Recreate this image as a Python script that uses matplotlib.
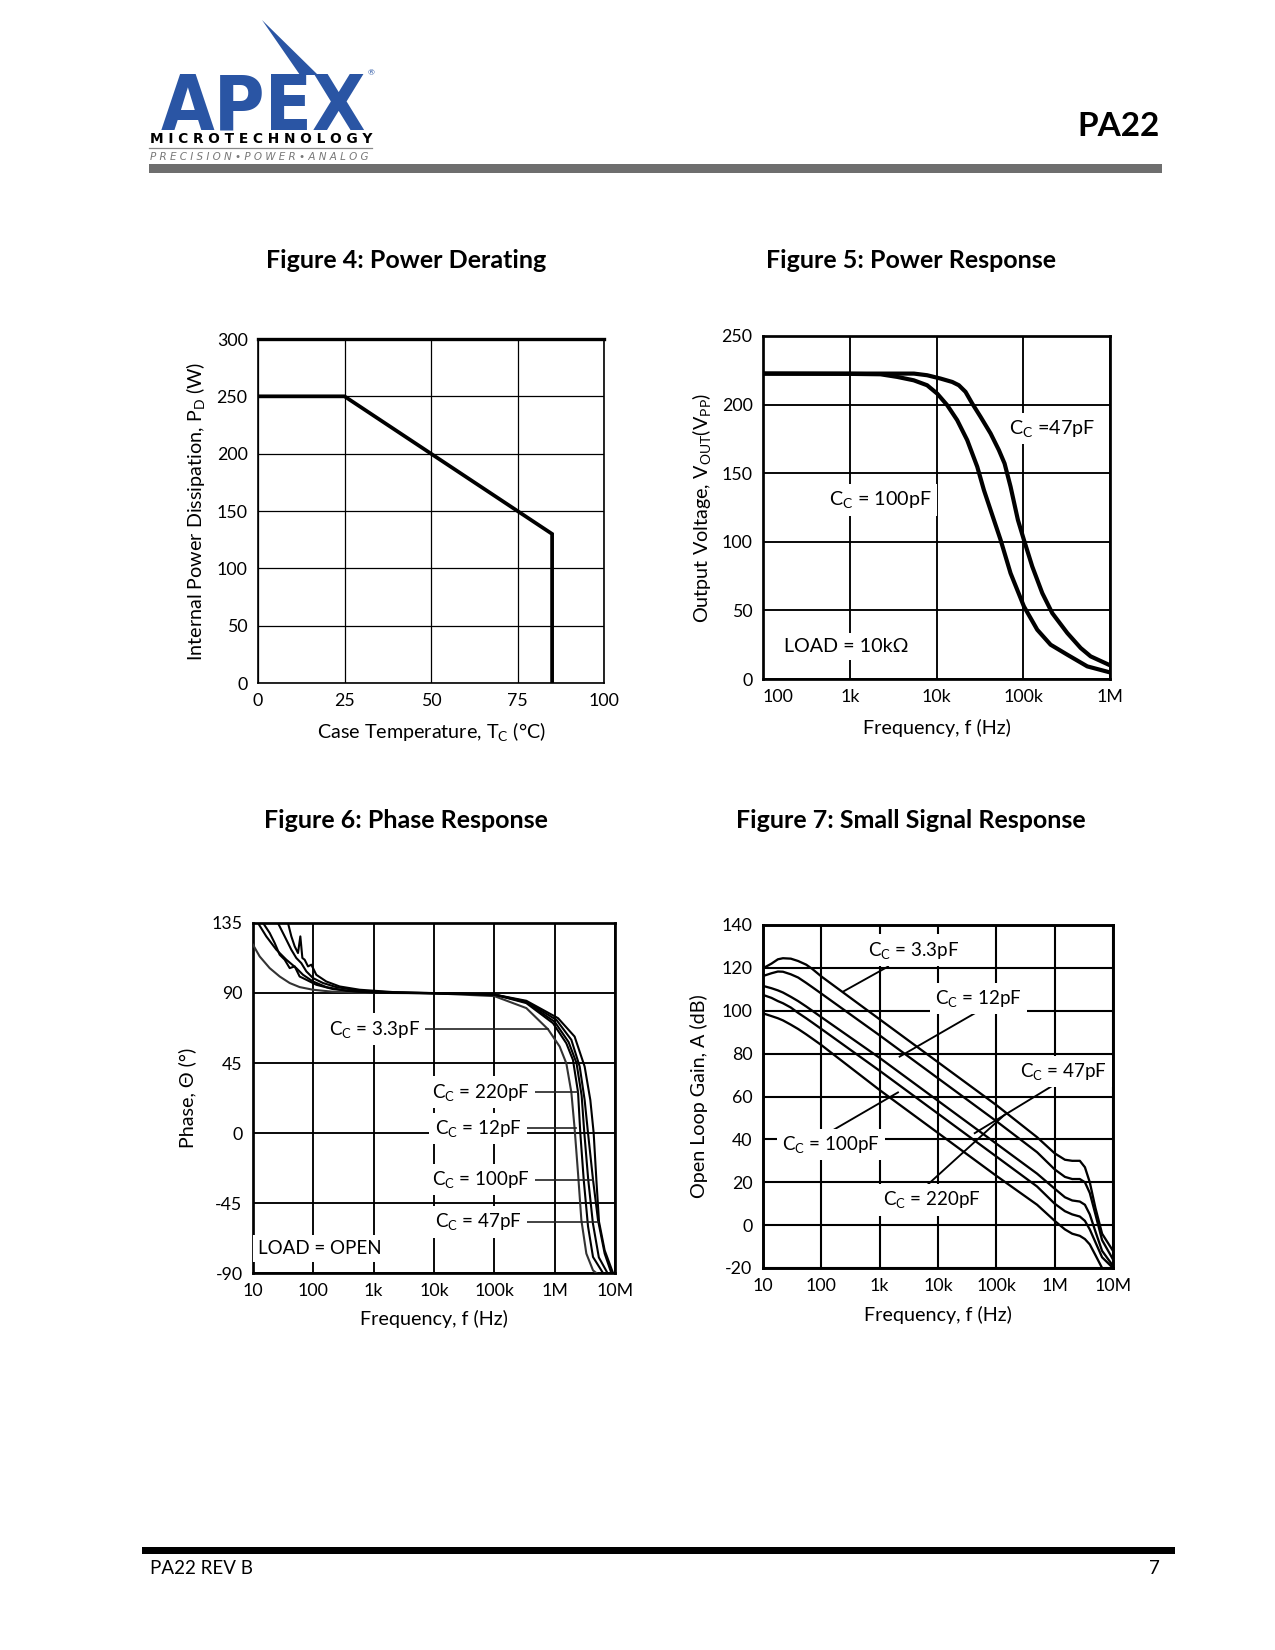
import numpy as np
import matplotlib
matplotlib.use('Agg')
import matplotlib.pyplot as plt
from matplotlib.lines import Line2D
from matplotlib.patches import Rectangle, Polygon

plt.rcParams['font.family'] = ['Lato', 'DejaVu Sans']
plt.rcParams['mathtext.default'] = 'regular'
plt.rcParams['axes.unicode_minus'] = False

W, H = 1275, 1650

# ---- Figure 4: power derating
temp4 = [0, 25, 75, 85, 85]
pd4 = [250, 250, 150, 130, 0]

# ---- Figure 5: power response
f5_47 = [100, 1000, 5500, 7800, 11100, 15200, 18100, 21600, 25800, 32200, 42000,
         52400, 60900, 71400, 86800, 101800, 127000, 165700, 216000, 322000,
         459000, 598000, 1000000]
v5_47 = [222.6, 222.6, 222.6, 221.4, 219.0, 216.5, 214.1, 209.3, 200.8, 191.1, 179.0,
         166.8, 157.1, 140.2, 115.9, 101.4, 82.0, 62.6, 48.0, 33.5,
         22.6, 16.5, 10.0]
f5_100 = [100, 1000, 2260, 3515, 5470, 7800, 10190, 13280, 17300, 22600, 29500,
          35200, 45900, 54800, 71400, 101800, 145000, 206700, 322000, 547000, 1000000]
v5_100 = [222.6, 222.4, 222.1, 220.2, 217.7, 214.1, 208.0, 199.6, 188.7, 174.1, 154.7,
          137.7, 115.9, 101.4, 77.1, 52.9, 35.9, 25.0, 17.7, 9.2, 4.8]

# ---- Figure 6: phase response
f6 = [
    [10, 12.9, 18.9, 27.7, 40.6, 59.3, 98.6, 212, 586, 2090, 10000, 100000, 339000,
     776000, 1210000, 1560000, 1890000, 2140000, 2440000, 2770000, 3350000, 4320000, 4900000],
    [12.1, 16.6, 24.4, 35.7, 52.2, 67.5, 98.6, 164, 352, 1107, 7460, 100000, 339000,
     938000, 1560000, 2010000, 2440000, 2660000, 3030000, 3570000, 4320000, 6320000],
    [14.7, 18.9, 22.9, 27.7, 33.5, 40.6, 49.1, 59.3, 76.6, 112, 212, 586, 2090, 100000,
     339000, 1070000, 1890000, 2600000, 3140000, 3570000, 4320000, 5230000, 6740000, 8690000],
    [25.9, 33.5, 43.2, 52.2, 63.2, 76.6, 98.6, 145, 240, 586, 2090, 100000, 339000,
     1140000, 2140000, 3140000, 3900000, 4430000, 4910000, 5430000, 6740000, 9270000],
    [38.0, 43.2, 49.1, 55.7, 60.9, 65.8, 71.8, 81.6, 92.7, 112, 164, 273, 586, 2090,
     100000, 339000, 1000000, 1700000, 2300000, 2800000, 3100000, 3600000, 4300000,
     5400000, 7500000],
]
ph6 = [
    [121, 113.5, 106, 100.6, 96.4, 93.8, 92.1, 90.8, 90.2, 90, 89.8, 88, 80.3,
     66.7, 55.6, 44.8, 26.2, 3, -26, -56, -77.5, -88.3, -90],
    [135, 126.4, 117.8, 111.4, 106, 101.7, 97.4, 93.8, 91.4, 90.2, 90, 89, 83.5,
     70.6, 57.7, 47, 26.2, 0, -30, -60, -79.7, -90],
    [135, 128.6, 122.1, 114.6, 111.4, 106, 107.1, 100.6, 98.5, 95.3, 92.5, 90.8, 90.2, 89,
     84.5, 72.7, 59.9, 42.7, 21.2, 0, -30, -56, -77.5, -90],
    [135, 126.4, 117.8, 112.5, 109.2, 103.9, 99.6, 96.4, 93.8, 91.4, 90.4, 89, 85,
     73.8, 62, 42.7, 21.2, 0, -30, -57, -75.4, -90],
    [135, 126.4, 120, 115.7, 126.4, 112.5, 111.4, 107.1, 108.2, 101.7, 97.4, 94.2, 92.1, 90.6,
     89, 84, 71.5, 58.5, 45, 24, 0, -30, -58, -80, -90],
]
lab6 = ['3.3pF', '220pF', '12pF', '100pF', '47pF']
lab6_f = [5.8e3, 3.85e5, 2.81e5, 3.85e5, 2.81e5]
lab6_y = [66.7, 26.2, 3.0, -29.9, -57.1]
lead6_f = [7.76e5, 2.44e6, 2.29e6, 4.3e6, 5.2e6]

# ---- Figure 7: small signal (open loop gain)
f7 = [10, 14, 18, 22, 30, 40, 55, 70, 100, 1000, 10000, 100000, 500000, 1000000,
      1500000, 2000000, 2700000, 3300000, 4000000, 5000000, 6500000, 10000000]
a7 = [
    [119.8, 122, 124, 124.5, 124.3, 123.2, 121.5, 119.5, 116, 96, 76, 56, 41, 33.5,
     30.5, 30, 30, 27, 20, 8, -4, -12],
    [116.2, 117.5, 118.3, 118.2, 117, 115.5, 113, 111, 108, 88.5, 68.5, 48.5, 34, 26,
     22.5, 21.5, 21.5, 20, 15, 5, -7, -16],
    [111.6, 110.5, 109.5, 108.5, 106.5, 104.5, 102, 100, 97, 78, 58, 38, 24, 17,
     13, 11.5, 11, 9.5, 5, -3, -12, -19],
    [107.4, 106, 104.5, 103.5, 101.5, 99, 96.5, 94.5, 91.5, 72, 52, 32, 18, 10,
     6.5, 5, 4, 2, -2, -8, -15, -20],
    [98.8, 97.5, 96.5, 95.5, 93.5, 91.5, 89, 87, 84, 63, 43, 23, 9.5, 2,
     -2, -4, -5, -6.5, -9, -14, -20, -24],
]
lab7 = ['3.3pF', '12pF', '47pF', '100pF', '220pF']
lab7_f = [3.8e3, 5.0e4, 1.39e6, 148, 7.9e3]
lab7_y = [128.3, 105.8, 71.7, 37.5, 11.8]
lead7_f = [[1.39e3, 235], [4.26e4, 2.2e3], [8.8e5, 4.26e4], [139, 2.06e3], [5.18e3, 1.39e5]]
lead7_y = [[120.6, 108.9], [98.8, 78.6], [64.7, 42.9], [43.4, 61.9], [16.2, 51.5]]

CC = r'C$_{C}$'


def px_axes(fig, x0, y0, x1, y1):
    '''Axes from pixel box (top-left origin).'''
    return fig.add_axes([x0 / W, 1 - y1 / H, (x1 - x0) / W, (y1 - y0) / H])


def style(ax, grid_lw, frame_lw, top_lw=None):
    ax.grid(True, which='major', color='black', lw=grid_lw)
    ax.set_axisbelow(True)
    ax.tick_params(axis='both', which='both', length=0, labelsize=8.5, pad=5)
    ax.minorticks_off()
    for s in ['top', 'bottom', 'left', 'right']:
        ax.spines[s].set_linewidth(frame_lw)
    if top_lw:
        ax.spines['top'].set_linewidth(top_lw)


def freq_axis(ax, lo, hi, labels):
    ax.set_xscale('log')
    ax.set_xlim(lo, hi)
    ticks = [10.0 ** k for k in range(int(np.log10(lo)), int(np.log10(hi)) + 1)]
    ax.set_xticks(ticks)
    ax.set_xticklabels(labels)
    ax.minorticks_off()


def axis_labels(ax, xl, yl, xpos, ypos):
    ax.set_xlabel(xl, fontsize=9.5, va='center')
    ax.xaxis.set_label_coords(0.5, xpos)
    ax.set_ylabel(yl, fontsize=9.5, va='center')
    ax.yaxis.set_label_coords(ypos, 0.5)


def label_text(ax, x, y, s, ha='left', size=9):
    ax.text(x, y, s, ha=ha, va='center', fontsize=size, zorder=5,
            bbox=dict(facecolor='white', edgecolor='none', pad=2.5))


def px(x, y):
    return x / W, 1 - y / H


fig = plt.figure(figsize=(W / 150, H / 150), dpi=150)

# ---- header
fig.text(*px(161, 129), 'APEX', fontsize=37, fontweight='heavy', color='#2a55a4',
         fontstretch='condensed', family='DejaVu Sans', ha='left', va='baseline')
fig.add_artist(Polygon([px(262, 20), px(300, 75), px(318, 75)], closed=True,
                       facecolor='#2a55a4', edgecolor='none'))
fig.text(*px(371, 73), '®', fontsize=4, color='#2a55a4', ha='center', va='center')
fig.text(*px(261, 139), 'M I C R O T E C H N O L O G Y', fontsize=6.6,
         fontweight='bold', family='DejaVu Sans', ha='center', va='center')
fig.add_artist(Line2D([149 / W, 372 / W], [1 - 148 / H] * 2, color='#888888', lw=0.6))
fig.text(*px(150, 157), 'P R E C I S I O N • P O W E R • A N A L O G', fontsize=5,
         style='italic', color='#777777', family='DejaVu Sans', ha='left', va='center')
fig.add_artist(Rectangle(px(149, 172.5), (1162 - 149) / W, 8.5 / H,
                         facecolor='#6e6e6e', edgecolor='none'))
fig.text(*px(1160, 127), 'PA22', fontsize=16, fontweight='bold', ha='right', va='center')

# ---- footer
fig.add_artist(Rectangle(px(142, 1554), (1175 - 142) / W, 7 / H,
                         facecolor='black', edgecolor='none'))
fig.text(*px(150, 1568), 'PA22 REV B', fontsize=9, ha='left', va='center')
fig.text(*px(1160, 1568), '7', fontsize=9, ha='right', va='center')

# ---- titles
for (cx, cy), t in zip([(406, 260), (911, 260), (406, 821), (911, 821)],
                       ['Figure 4: Power Derating', 'Figure 5: Power Response',
                        'Figure 6: Phase Response', 'Figure 7: Small Signal Response']):
    fig.text(*px(cx, cy), t, fontsize=12, fontweight='bold', ha='center', va='center')

# ---- Figure 4
ax4 = px_axes(fig, 258, 339, 604, 683)
ax4.plot(temp4, pd4, color='black', lw=1.8, solid_joinstyle='miter', zorder=3)
ax4.set_xlim(0, 100)
ax4.set_ylim(0, 300)
ax4.set_xticks([0, 25, 50, 75, 100])
ax4.set_yticks(range(0, 301, 50))
style(ax4, 0.6, 0.8, top_lw=1.6)
axis_labels(ax4, r'Case Temperature, T$_{C}$ (°C)',
            r'Internal Power Dissipation, P$_{D}$ (W)', -0.14, -0.182)

# ---- Figure 5
ax5 = px_axes(fig, 763, 336, 1110, 679)
ax5.plot(f5_47, v5_47, color='black', lw=2.0, zorder=3)
ax5.plot(f5_100, v5_100, color='black', lw=2.0, zorder=3)
freq_axis(ax5, 100, 1e6, ['100', '1k', '10k', '100k', '1M'])
ax5.get_xticklabels()[0].set_ha('left')
ax5.set_ylim(0, 250)
ax5.set_yticks(range(0, 251, 50))
style(ax5, 0.9, 1.3)
label_text(ax5, 6.8e4, 182.6, CC + ' =47pF', size=9.5)
label_text(ax5, 573, 130.5, CC + ' = 100pF', size=9.5)
label_text(ax5, 173, 23.8, 'LOAD = 10kΩ', size=9.5)
axis_labels(ax5, 'Frequency, f (Hz)', r'Output Voltage, V$_{OUT}$(V$_{PP}$)', -0.143, -0.177)

# ---- Figure 6
ax6 = px_axes(fig, 253, 923, 615, 1273)
for i, (f, p) in enumerate(zip(f6, ph6)):
    ax6.plot(f, p, color='#333333' if i == 0 else 'black', lw=1.0, zorder=3)
freq_axis(ax6, 10, 1e7, ['10', '100', '1k', '10k', '100k', '1M', '10M'])
ax6.set_ylim(-90, 135)
ax6.set_yticks([-90, -45, 0, 45, 90, 135])
style(ax6, 0.9, 1.3)
for s, x, y, xe in zip(lab6, lab6_f, lab6_y, lead6_f):
    ax6.plot([x, xe], [y, y], color='#222222', lw=0.8, zorder=4)
    label_text(ax6, x, y, CC + ' = ' + s, ha='right')
label_text(ax6, 12.1, -74.3, 'LOAD = OPEN')
axis_labels(ax6, 'Frequency, f (Hz)', 'Phase, Θ (°)', -0.131, -0.182)

# ---- Figure 7
ax7 = px_axes(fig, 763, 925, 1113, 1268)
for a in a7:
    ax7.plot(f7, a, color='black', lw=1.1, zorder=3)
freq_axis(ax7, 10, 1e7, ['10', '100', '1k', '10k', '100k', '1M', '10M'])
ax7.set_ylim(-20, 140)
ax7.set_yticks(range(-20, 141, 20))
style(ax7, 1.0, 1.4)
for s, x, y, lf, ly in zip(lab7, lab7_f, lab7_y, lead7_f, lead7_y):
    ax7.plot(lf, ly, color='black', lw=0.9, zorder=4)
    label_text(ax7, x, y, CC + ' = ' + s, ha='center')
axis_labels(ax7, 'Frequency, f (Hz)', 'Open Loop Gain, A (dB)', -0.137, -0.184)

fig.savefig('out.png', dpi=150)
